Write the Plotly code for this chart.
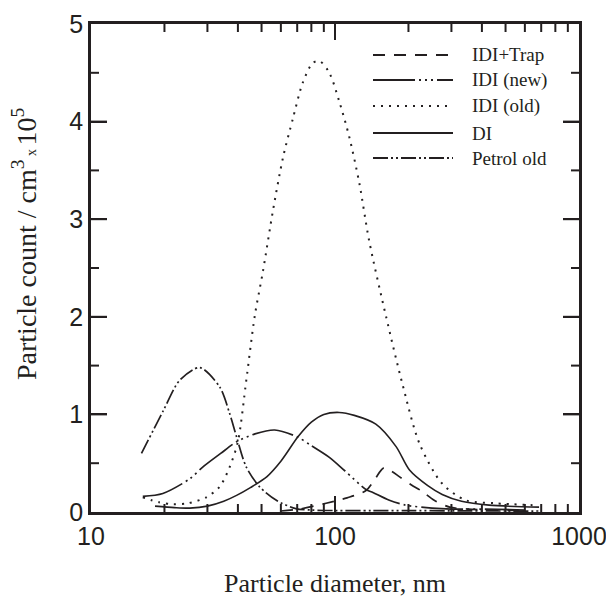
import math
import plotly.graph_objects as go

# ---------------- data ----------------
trap_d = [60, 71.5, 92, 112, 134, 146, 158, 170, 184, 205, 228, 255, 295, 350, 450, 600]
trap_v = [0.01, 0.03, 0.09, 0.145, 0.22, 0.34, 0.45, 0.42, 0.36, 0.28, 0.21, 0.12, 0.05, 0.03, 0.02, 0.015]

new_d = [16.3, 19.7, 25.4, 28.7, 34, 39.5, 47, 56.6, 70, 80, 94.8, 110, 134, 143, 167, 195, 250, 300, 400, 600]
new_v = [0.16, 0.19, 0.34, 0.46, 0.60, 0.72, 0.80, 0.84, 0.77, 0.68, 0.56, 0.42, 0.23, 0.20, 0.12, 0.07, 0.04, 0.03, 0.03, 0.02]

old_d = [16.3, 19, 21.7, 25, 29.7, 33.7, 37, 40, 43.3, 46.9, 50.7, 55.7, 61.2, 67.2, 73.8, 81,
         86.5, 94.8, 104, 114.5, 126, 138, 162, 189, 222, 275, 344, 450, 645]
old_v = [0.15, 0.10, 0.08, 0.09, 0.15, 0.26, 0.46, 0.72, 1.35, 2.01, 2.47, 3.09, 3.63, 4.03, 4.40, 4.60,
         4.62, 4.50, 4.21, 3.84, 3.36, 2.78, 2.00, 1.31, 0.70, 0.29, 0.12, 0.09, 0.07]

di_d = [18.3, 22, 25.4, 30, 35, 39.5, 45, 52.5, 60, 70.5, 80, 90, 104, 120, 147, 178, 202, 240, 275, 330, 428, 686]
di_v = [0.06, 0.045, 0.04, 0.06, 0.11, 0.17, 0.25, 0.36, 0.52, 0.77, 0.92, 1.0, 1.02, 0.99, 0.90, 0.67, 0.43, 0.27, 0.18, 0.11, 0.07, 0.05]

pet_d = [16.1, 19.8, 23.1, 27.9, 33.7, 37, 39.5, 43.3, 49, 57.5, 69, 80, 100, 142, 200, 300, 500, 700]
pet_v = [0.60, 1.04, 1.35, 1.48, 1.28, 1.01, 0.77, 0.46, 0.26, 0.12, 0.035, 0.02, 0.015, 0.015, 0.015, 0.012, 0.01, 0.01]

series_names = ["IDI+Trap", "IDI (new)", "IDI (old)", "DI", "Petrol old"]

x_ticks = [10, 100, 1000]
x_minor = [20, 30, 40, 50, 60, 70, 80, 90, 200, 300, 400, 500, 600, 700, 800, 900]
y_ticks = [0, 1, 2, 3, 4, 5]
y_minor = [0.5, 1.5, 2.5, 3.5, 4.5]

# ---------------- style ----------------
INK = "#231f20"
SERIF = "Liberation Serif"
SANS = "Liberation Sans"
dashes = ["12px,9px",
          "42px,4px,2px,4px,2px,4px,2px,4px",
          "2px,6px",
          "solid",
          "15px,3px,2px,3px,2px,3px"]
widths = [1.7, 1.7, 2.0, 1.6, 1.7]
MAJOR_LEN, MINOR_LEN, TICK_W = 16, 8, 2

fig = go.Figure()
data = [(trap_d, trap_v), (new_d, new_v), (old_d, old_v), (di_d, di_v), (pet_d, pet_v)]
for (d, v), name, dash, w in zip(data, series_names, dashes, widths):
    fig.add_trace(go.Scatter(x=d, y=v, mode="lines", name=name,
                             line=dict(color=INK, width=w, dash=dash, shape="spline", smoothing=0.8),
                             showlegend=False))

# page body adds an 8px offset; work in screen pixels and subtract it
OFF = 8
L, R, T, B = 91, 579, 24, 512          # plot box in screen px
W, H = 614 - OFF, 597 - OFF
PW, PH = R - L, B - T

def px_x(p):
    return (p - L) / PW

def px_y(p):
    return (B - p) / PH

# inward tick marks on all four sides (plot-fraction coordinates)
LOG_LO, LOG_HI = math.log10(x_ticks[0]), math.log10(x_ticks[-1])
Y_LO, Y_HI = y_ticks[0], y_ticks[-1]

def x_frac(v):
    return (math.log10(v) - LOG_LO) / (LOG_HI - LOG_LO)

def y_frac(v):
    return (v - Y_LO) / (Y_HI - Y_LO)

tick_line = dict(color=INK, width=TICK_W)
for vals, ln in ((x_ticks[1:-1], MAJOR_LEN), (x_minor, MINOR_LEN)):
    for v in vals:
        xf = x_frac(v)
        fig.add_shape(type="line", xref="paper", yref="paper", x0=xf, x1=xf,
                      y0=0, y1=ln / PH, line=tick_line, layer="above")
        fig.add_shape(type="line", xref="paper", yref="paper", x0=xf, x1=xf,
                      y0=1, y1=1 - ln / PH, line=tick_line, layer="above")
for vals, ln in ((y_ticks[1:-1], MAJOR_LEN), (y_minor, MINOR_LEN)):
    for v in vals:
        yf = y_frac(v)
        fig.add_shape(type="line", xref="paper", yref="paper", y0=yf, y1=yf,
                      x0=0, x1=ln / PW, line=tick_line, layer="above")
        fig.add_shape(type="line", xref="paper", yref="paper", y0=yf, y1=yf,
                      x0=1, x1=1 - ln / PW, line=tick_line, layer="above")

# manual legend (long sample lines)
rows = [55, 80, 106, 133, 158]
for name, dash, py in zip(series_names, dashes, rows):
    fig.add_shape(type="line", xref="paper", yref="paper",
                  x0=px_x(373), x1=px_x(453), y0=px_y(py), y1=px_y(py),
                  line=dict(color=INK, width=2, dash=dash))
    fig.add_annotation(xref="paper", yref="paper", x=px_x(470), y=px_y(py),
                       xanchor="left", yanchor="middle", text=name, showarrow=False,
                       font=dict(family=SERIF, size=19, color=INK))

# axis titles as annotations
fig.add_annotation(xref="paper", yref="paper", x=px_x(25), y=px_y(244),
                   xanchor="center", yanchor="middle", textangle=-90, showarrow=False,
                   text="Particle count / cm<sup>3</sup><span style=\"font-size:14px\"> x </span>10<sup>5</sup>",
                   font=dict(family=SERIF, size=28, color=INK))
fig.add_annotation(xref="paper", yref="paper", x=px_x(335), y=px_y(583),
                   xanchor="center", yanchor="middle", showarrow=False,
                   text="Particle diameter, nm",
                   font=dict(family=SERIF, size=26, color=INK))

fig.update_layout(
    width=W, height=H,
    margin=dict(l=L - OFF, r=W - (R - OFF), t=T - OFF, b=H - (B - OFF), autoexpand=False),
    paper_bgcolor="white", plot_bgcolor="white",
    xaxis=dict(type="log", range=[LOG_LO, LOG_HI], tickvals=x_ticks, ticktext=[str(t) for t in x_ticks],
               ticks="inside", ticklen=MAJOR_LEN, tickwidth=TICK_W, tickcolor=INK,
               showline=True, linewidth=2.5, linecolor=INK, mirror="ticks",
               showgrid=False, zeroline=False, automargin=False,
               tickfont=dict(family=SANS, size=25, color=INK)),
    yaxis=dict(range=[Y_LO, Y_HI], tickvals=y_ticks,
               ticks="inside", ticklen=MAJOR_LEN, tickwidth=TICK_W, tickcolor=INK,
               showline=True, linewidth=2.5, linecolor=INK, mirror="ticks",
               showgrid=False, zeroline=False, automargin=False,
               tickfont=dict(family=SANS, size=25, color=INK)),
)

fig.write_html("out.html")
